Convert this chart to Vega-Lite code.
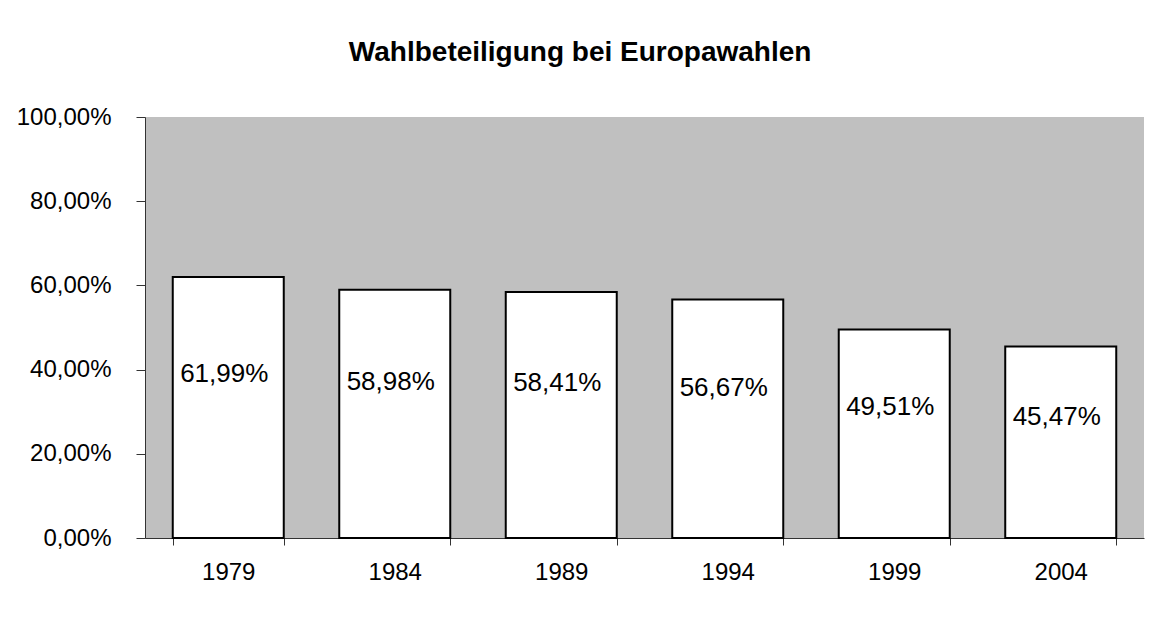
{
  "$schema": "https://vega.github.io/schema/vega-lite/v6.json",
  "width": 999,
  "height": 421,
  "autosize": {"type": "none"},
  "padding": {"left": 145, "top": 117, "right": 18, "bottom": 88},
  "background": "white",
  "title": {
    "text": "Wahlbeteiligung bei Europawahlen",
    "font": "Liberation Sans",
    "fontSize": 28,
    "fontWeight": "bold",
    "color": "black",
    "anchor": "middle",
    "frame": "bounds",
    "offset": 38
  },
  "config": {
    "locale": {"number": {"decimal": ",", "thousands": ".", "grouping": [3], "currency": ["", " €"]}},
    "view": {"fill": "#C0C0C0", "stroke": null},
    "axis": {
      "labelFont": "Liberation Sans",
      "labelFontSize": 24,
      "labelColor": "black",
      "domainColor": "#333333",
      "tickColor": "#333333",
      "domainWidth": 1,
      "tickWidth": 1,
      "grid": false,
      "title": null
    }
  },
  "data": {
    "values": [
      {"jahr": "1979", "wert": 0.6199},
      {"jahr": "1984", "wert": 0.5898},
      {"jahr": "1989", "wert": 0.5841},
      {"jahr": "1994", "wert": 0.5667},
      {"jahr": "1999", "wert": 0.4951},
      {"jahr": "2004", "wert": 0.4547}
    ]
  },
  "encoding": {
    "x": {
      "field": "jahr",
      "type": "nominal",
      "scale": {"paddingInner": 0.3333, "paddingOuter": 0.1667},
      "axis": {"labelAngle": 0, "tickBand": "extent", "tickSize": 7, "labelPadding": 15}
    }
  },
  "layer": [
    {
      "mark": {"type": "bar", "fill": "white", "stroke": "black", "strokeWidth": 2},
      "encoding": {
        "y": {
          "field": "wert",
          "type": "quantitative",
          "scale": {"domain": [0, 1], "nice": false},
          "axis": {"format": ".2%", "values": [0, 0.2, 0.4, 0.6, 0.8, 1], "tickSize": 9, "labelPadding": 25}
        }
      }
    },
    {
      "transform": [{"calculate": "datum.wert * 0.63", "as": "labelpos"}],
      "mark": {"type": "text", "font": "Liberation Sans", "fontSize": 26, "color": "black", "baseline": "middle", "align": "center", "dx": -4},
      "encoding": {
        "y": {"field": "labelpos", "type": "quantitative"},
        "text": {"field": "wert", "type": "quantitative", "format": ".2%"}
      }
    }
  ]
}
